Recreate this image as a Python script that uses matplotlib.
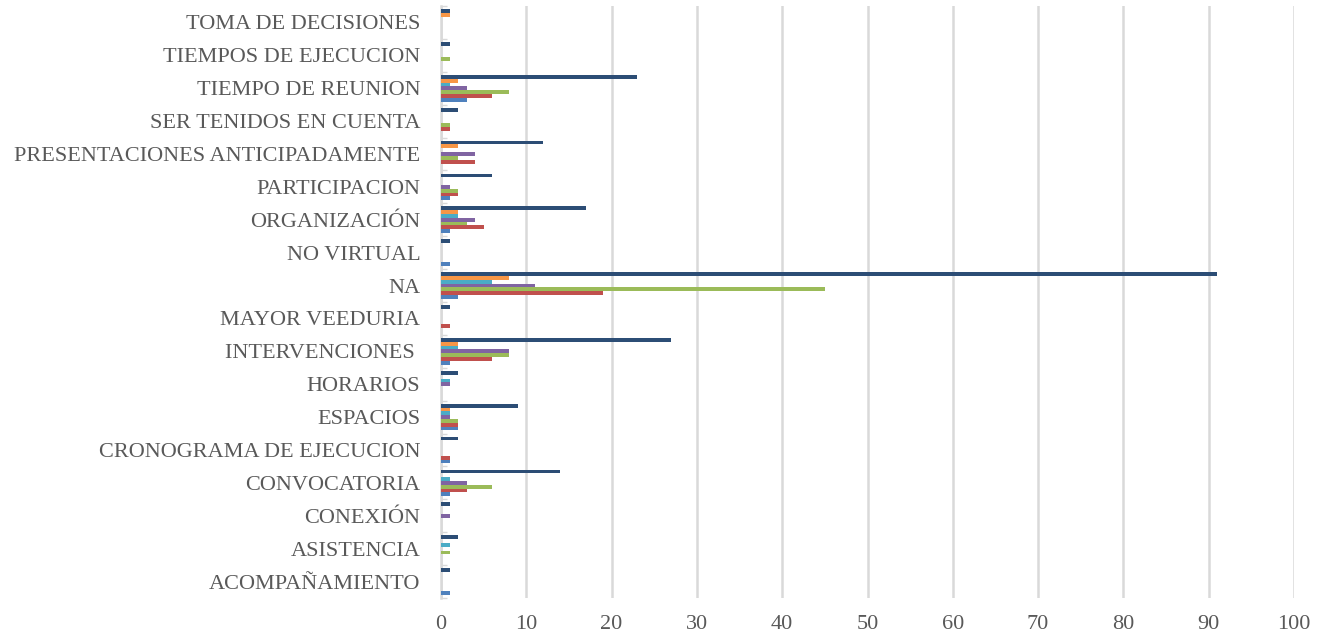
import numpy as np
import matplotlib
matplotlib.use("Agg")
import matplotlib.pyplot as plt

categories = ["ACOMPAÑAMIENTO", "ASISTENCIA", "CONEXIÓN", "CONVOCATORIA",
              "CRONOGRAMA DE EJECUCION", "ESPACIOS", "HORARIOS", "INTERVENCIONES ",
              "MAYOR VEEDURIA", "NA", "NO VIRTUAL", "ORGANIZACIÓN", "PARTICIPACION",
              "PRESENTACIONES ANTICIPADAMENTE", "SER TENIDOS EN CUENTA",
              "TIEMPO DE REUNION", "TIEMPOS DE EJECUCION", "TOMA DE DECISIONES"]

# series drawn bottom to top inside each group
s1 = [1, 0, 0, 1, 1, 2, 0, 1, 0, 2, 1, 1, 1, 0, 0, 3, 0, 0]
s2 = [0, 0, 0, 3, 1, 2, 0, 6, 1, 19, 0, 5, 2, 4, 1, 6, 0, 0]
s3 = [0, 1, 0, 6, 0, 2, 0, 8, 0, 45, 0, 3, 2, 2, 1, 8, 1, 0]
s4 = [0, 0, 1, 3, 0, 1, 1, 8, 0, 11, 0, 4, 1, 4, 0, 3, 0, 0]
s5 = [0, 1, 0, 1, 0, 1, 1, 2, 0, 6, 0, 2, 0, 0, 0, 1, 0, 0]
s6 = [0, 0, 0, 0, 0, 1, 0, 2, 0, 8, 0, 2, 0, 2, 0, 2, 0, 1]
s7 = [1, 2, 1, 14, 2, 9, 2, 27, 1, 91, 1, 17, 6, 12, 2, 23, 1, 1]

series = [s1, s2, s3, s4, s5, s6, s7]
colors = ["#4F81BD", "#C0504D", "#9BBB59", "#8064A2", "#4BACC6", "#F79646", "#2C4D75"]

plt.rcParams["font.family"] = ["Liberation Serif", "DejaVu Serif"]

fig = plt.figure(figsize=(13.27, 6.38), dpi=100)
ax = fig.add_axes([441 / 1327, (638 - 598) / 638, (1294 - 441) / 1327, (598 - 6) / 638])

y = np.arange(len(categories))
n = len(series)
h = 0.81 / n
for i, (vals, c) in enumerate(zip(series, colors)):
    ax.barh(y - 0.405 + h * (i + 0.5), vals, height=h, color=c,
            linewidth=0, zorder=3)

ax.set_xlim(0, 100)
ax.set_ylim(-0.5, len(categories) - 0.5)
ax.set_xticks(np.arange(0, 101, 10))
ax.set_yticks(y)
ax.set_yticklabels(categories)
ax.grid(axis="x", color="#D9D9D9", linewidth=1.8, zorder=0)
ax.set_axisbelow(True)
for side in ["top", "right", "bottom"]:
    ax.spines[side].set_visible(False)
ax.spines["left"].set_color("#D9D9D9")
ax.spines["left"].set_linewidth(1.8)
ax.tick_params(axis="y", length=0, pad=15, labelsize=16, labelcolor="#595959")
ax.tick_params(axis="x", length=0, pad=12, labelsize=16, labelcolor="#595959")
ax.set_yticks(np.arange(-0.5, len(categories), 1), minor=True)
ax.tick_params(axis="y", which="minor", length=4, direction="in", color="#D9D9D9", width=1)

fig.savefig("out.png", dpi=100)
